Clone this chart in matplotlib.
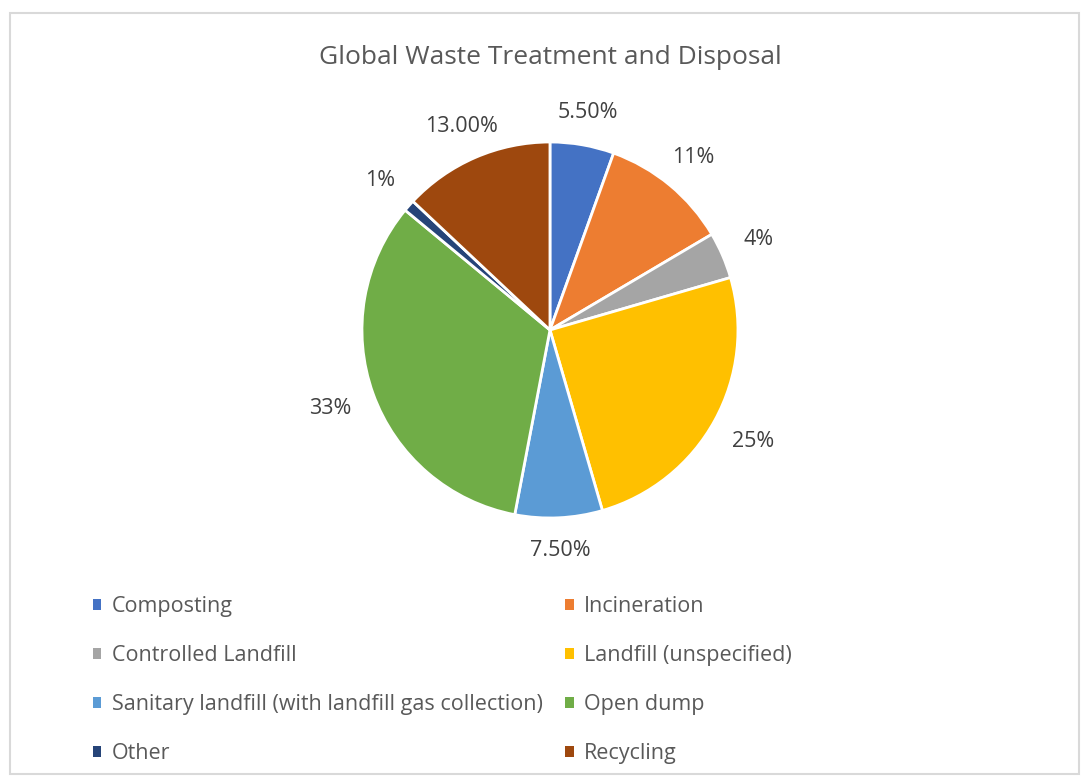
import numpy as np
import matplotlib.pyplot as plt
from matplotlib.patches import Patch, Rectangle

plt.rcParams['font.family'] = ['Open Sans', 'DejaVu Sans']

# Share of global waste by treatment / disposal route (percent)
categories = ['Composting', 'Incineration', 'Controlled Landfill', 'Landfill (unspecified)',
              'Sanitary landfill (with landfill gas collection)', 'Open dump', 'Other', 'Recycling']
shares = [5.5, 11, 4, 25, 7.5, 33, 1, 13]
share_labels = ['5.50%', '11%', '4%', '25%', '7.50%', '33%', '1%', '13.00%']
colors = ['#4472C4', '#ED7D31', '#A5A5A5', '#FFC000', '#5B9BD5', '#70AD47', '#264478', '#9E480E']

fig = plt.figure(figsize=(10.84, 7.83), dpi=100)

# light chart-area border
fig.patches.append(Rectangle((10 / 1084, 1 - 774 / 783), 1069 / 1084, 761 / 783,
                             transform=fig.transFigure, fill=False,
                             edgecolor='#d9d9d9', linewidth=1.5))

ax = fig.add_axes([0.2472, 0.2184, 0.5203, 0.7203])
wedges, _ = ax.pie(shares, colors=colors, startangle=90, counterclock=False,
                   wedgeprops=dict(edgecolor='white', linewidth=2))
ax.set_xlim(-1.5, 1.5)
ax.set_ylim(-1.5, 1.5)
ax.set_aspect('equal')

# percentage labels outside each slice: the label box sits a fixed gap
# beyond the rim, measured along the slice's mid-angle
renderer = fig.canvas.get_renderer()
px_per_unit = ax.transData.transform((1, 0))[0] - ax.transData.transform((0, 0))[0]
gap = 0.12
for w, txt in zip(wedges, share_labels):
    mid = np.deg2rad((w.theta1 + w.theta2) / 2)
    c, s = np.cos(mid), np.sin(mid)
    t = ax.text(0, 0, txt, ha='center', va='center', fontsize=15.5, color='#404040')
    bb = t.get_window_extent(renderer=renderer)
    hw, hh = bb.width / 2 / px_per_unit, bb.height / 2 / px_per_unit
    reach = min(hw / max(abs(c), 1e-6), hh / max(abs(s), 1e-6))
    d = 1 + gap + reach
    t.set_position((d * c, d * s))

fig.text(0.508, 1 - 58 / 783, 'Global Waste Treatment and Disposal',
         ha='center', va='center', fontsize=19, color='#595959')

# legend laid out row by row in two columns
handles = [Patch(facecolor=c, edgecolor='none') for c in colors]
order = list(range(0, 8, 2)) + list(range(1, 8, 2))
fig.legend([handles[i] for i in order], [categories[i] for i in order],
           ncol=2, loc='upper left', bbox_to_anchor=(93 / 1084, 1 - 596 / 783),
           frameon=False, fontsize=15.5, handlelength=0.38, handleheight=0.38,
           handletextpad=0.5, columnspacing=1.05, labelspacing=1.3,
           borderpad=0, borderaxespad=0, labelcolor='#595959')

fig.savefig('out.png', dpi=100)
